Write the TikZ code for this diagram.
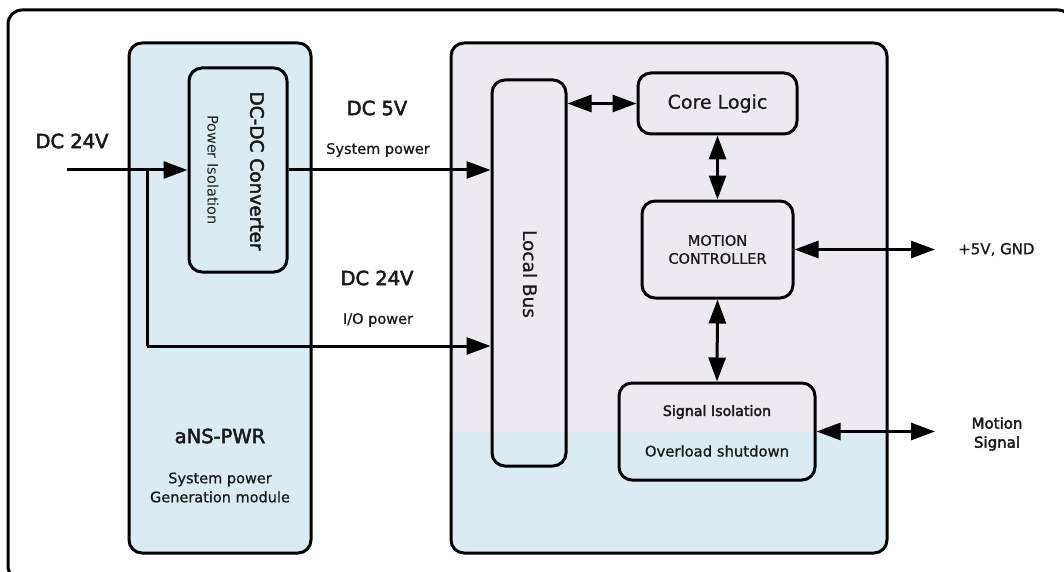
\documentclass[tikz,border=0pt]{standalone}
\usepackage{fontspec}
\setmainfont{DejaVu Sans}
\newfontfamily\medfont[FakeBold=2.6]{DejaVu Sans}
\newfontfamily\semifont[FakeBold=0.8]{DejaVu Sans}
\usetikzlibrary{arrows.meta}
\definecolor{lb}{HTML}{DAECF2}
\definecolor{lav}{HTML}{ECE9F1}
\definecolor{txt}{HTML}{1A1A1A}
\newcommand{\fs}[1]{\fontsize{#1}{#1}\selectfont}
\tikzset{
  box/.style={draw=black, line width=3pt, rounded corners=13pt, inner sep=0pt, text=txt},
  conn/.style={line width=3pt, -{Triangle[length=24pt,width=17pt]}},
  biconn/.style={line width=3pt, {Triangle[length=24pt,width=17pt]}-{Triangle[length=24pt,width=17pt]}},
  lbl/.style={text=txt, inner sep=0pt},
}
\begin{document}
\begin{tikzpicture}[x=1pt,y=-1pt]
\clip (0,0) rectangle (1064,572);
\fill[white] (0,0) rectangle (1064,572);
% outer frame (clipped by page)
\draw[line width=3pt, rounded corners=14pt] (8,10) rectangle (1072,580);
% power module
\node[box, fill=lb, minimum width=182pt, minimum height=510pt] (pwr) at (220,298) {};
% main module background
\begin{scope}
  \clip[rounded corners=14pt] (451,43) rectangle (887,553);
  \fill[lav] (451,43) rectangle (887,553);
  \fill[lb] (451,432) rectangle (887,553);
\end{scope}
\node[box, minimum width=436pt, minimum height=510pt] (main) at (669,298) {};
% DC-DC converter
\node[box, fill=lb, minimum width=98pt, minimum height=204pt] (dcdc) at (238,170) {};
\node[lbl, rotate=-90, font=\medfont] (dcdct) at (257,171) {\fs{18.5}DC-DC Converter};
\node[lbl, rotate=-90] (dcdcs) at (213,170) {\fs{14.5}Power Isolation};
% local bus
\node[box, minimum width=74pt, minimum height=386pt] (bus) at (529,273) {};
\node[lbl, rotate=-90, font=\semifont] (bust) at (530,274) {\fs{18.5}Local Bus};
% core logic
\node[box, minimum width=159pt, minimum height=61pt, font=\semifont] (core) at (717.5,103.5) {\fs{19}Core Logic};
% motion controller
\node[box, minimum width=151pt, minimum height=97pt, align=center,
      font=\semifont\fontsize{14.5}{18}\selectfont] (mc) at (717.5,249.5) {MOTION\\CONTROLLER};
% signal isolation
\node[box, minimum width=196pt, minimum height=97pt] (si) at (717,431.5) {};
\node[lbl, font=\medfont] (sit) at (717,412) {\fs{14.2}Signal Isolation};
\node[lbl, font=\semifont] (sis) at (717,451) {\fs{14.8}Overload shutdown};
% texts
\node[lbl, font=\medfont] (in24) at (72,141) {\fs{19.5}DC 24V};
\node[lbl, font=\medfont] (dc5) at (377,108) {\fs{19.5}DC 5V};
\node[lbl, font=\semifont] (sysp) at (378,150) {\fs{14.5}System power};
\node[lbl, font=\medfont] (dc24) at (377,278) {\fs{19.5}DC 24V};
\node[lbl, font=\semifont] (iop) at (378,320) {\fs{14.5}I/O power};
\node[lbl, font=\medfont] (ans) at (220,436) {\fs{19.5}aNS-PWR};
\node[lbl, align=center, font=\semifont\fontsize{14.5}{19}\selectfont] (gen) at (220,487.5) {System power\\Generation module};
\node[lbl, anchor=west, font=\semifont] (gnd) at (958,249.5) {\fs{15}+5V, GND};
\node[lbl, align=center, font=\medfont\fontsize{15}{19}\selectfont] (msig) at (997,434) {Motion\\Signal};
% coordinates
\coordinate (inS) at (67,170);
\coordinate (br) at (147,170);
\coordinate (brB) at (147,346);
\coordinate (gndE) at (935,249.5);
\coordinate (sigE) at (935,431.5);
% connectors
\draw[conn] (inS) -- (dcdc.west);
\draw[line width=3pt] (br) -- (brB);
\draw[conn] (brB) -- (brB -| bus.west);
\draw[conn] (dcdc.east) -- (dcdc.east -| bus.west);
\draw[biconn] (core.west -| bus.east) -- (core.west);
\draw[biconn] (core.south) -- (mc.north);
\draw[biconn] (mc.east) -- (gndE);
\draw[biconn] (mc.south) -- (si.north);
\draw[biconn] (si.east) -- (sigE);
\end{tikzpicture}
\end{document}
